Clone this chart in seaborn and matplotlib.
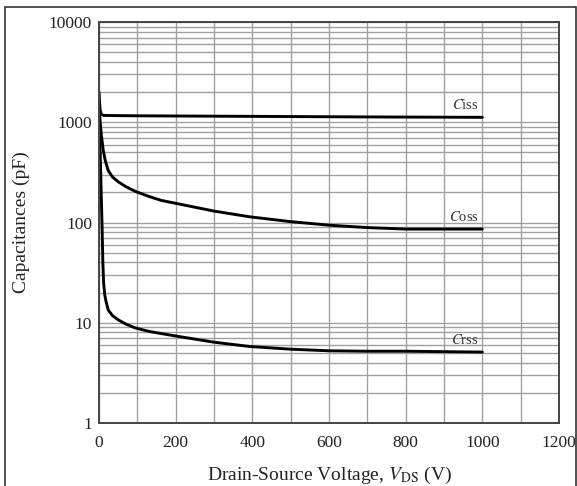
import numpy as np
import pandas as pd
import matplotlib
matplotlib.use("Agg")
import matplotlib.pyplot as plt
import seaborn as sns
from matplotlib.patches import Rectangle
from matplotlib.ticker import FixedLocator, LogLocator, NullFormatter

# Data
ciss_v = [0, 1, 2, 3, 5, 8, 12, 50, 100, 300, 500, 700, 1000]
ciss_c = [2000, 1700, 1450, 1320, 1230, 1190, 1170, 1165, 1160, 1150, 1140, 1130, 1120]

coss_v = [0, 1.5, 3, 6, 11, 16, 24, 35, 50, 70, 94, 130, 163, 198, 300, 393, 500, 601, 700, 802, 900, 1000]
coss_c = [1500, 1200, 1000, 750, 525, 420, 330, 285, 255, 228, 205, 182, 166, 156, 130, 114, 102, 94, 89, 86, 86, 86]

crss_v = [0, 3, 6, 8, 9, 10, 12, 15, 18, 24, 35, 50, 70, 94, 130, 163, 198, 300, 393, 500, 601, 700, 802, 900, 1000]
crss_c = [1200, 500, 180, 90, 60, 40, 25, 19, 16.5, 13.4, 11.8, 10.7, 9.7, 8.9, 8.2, 7.8, 7.4, 6.4, 5.8, 5.45, 5.25, 5.2, 5.2, 5.15, 5.1]

x_ticks = [0, 200, 400, 600, 800, 1000, 1200]
y_ticks = [1, 10, 100, 1000, 10000]
series_names = ["Ciss", "Coss", "Crss"]

df = pd.concat([
    pd.DataFrame({"V": ciss_v, "C": ciss_c, "s": "Ciss"}),
    pd.DataFrame({"V": coss_v, "C": coss_c, "s": "Coss"}),
    pd.DataFrame({"V": crss_v, "C": crss_c, "s": "Crss"}),
])

sns.set_style("white")
plt.rcParams["font.family"] = ["Liberation Serif", "DejaVu Serif"]
plt.rcParams["mathtext.fontset"] = "stix"

fig = plt.figure(figsize=(5.77, 4.86), dpi=100)
ax = fig.add_axes([0.1716, 0.1296, 0.9688 - 0.1716, 0.9547 - 0.1296])

sns.lineplot(data=df, x="V", y="C", units="s", estimator=None, sort=False,
             color="black", linewidth=2.1, ax=ax, legend=False)

ax.set_yscale("log")
ax.set_xlim(0, 1200)
ax.set_ylim(1, 10000)
ax.xaxis.set_major_locator(FixedLocator(x_ticks))
ax.xaxis.set_minor_locator(FixedLocator(list(range(0, 1201, 100))))
ax.yaxis.set_major_locator(FixedLocator(y_ticks))
ax.yaxis.set_minor_locator(LogLocator(base=10, subs=range(2, 10), numticks=20))
ax.yaxis.set_minor_formatter(NullFormatter())
ax.set_xticklabels([str(t) for t in x_ticks])
ax.set_yticklabels([str(t) for t in y_ticks])
ax.tick_params(axis="both", which="both", length=0, labelsize=12.5, colors="#222222")
ax.tick_params(axis="x", pad=8.8)
ax.tick_params(axis="y", pad=5)

ax.grid(True, which="both", axis="both", color="#a0a0a0", linewidth=1.0)
for sp in ax.spines.values():
    sp.set_color("#444444")
    sp.set_linewidth(1.4)
ax.set_axisbelow(True)

ax.set_xlabel(r"Drain-Source Voltage, $V_{\mathrm{DS}}$ (V)", fontsize=14, color="#222222", labelpad=9.5)
ax.set_ylabel("Capacitances (pF)", fontsize=14, color="#222222", labelpad=13.5)

label_y = [ciss_c[-1], coss_c[-1], crss_c[-1]]
for name, yv in zip(series_names, label_y):
    ax.text(990, yv * 1.12, r"$C$" + name[1:], ha="right", va="bottom",
            fontsize=10.5, color="#333333")

fig.patches.append(Rectangle((0.009, -0.01), 0.989, 0.996, transform=fig.transFigure,
                             fill=False, edgecolor="#333333", linewidth=1.2))

fig.savefig("out.png", dpi=100)
